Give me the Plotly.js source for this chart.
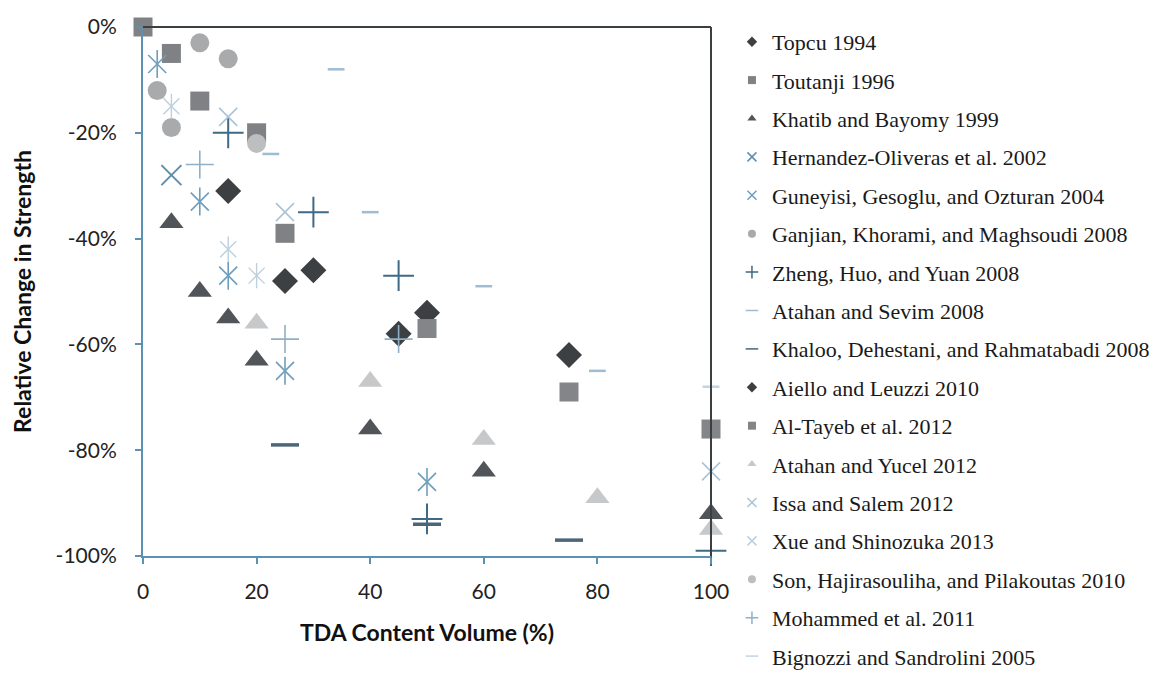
<!DOCTYPE html>
<html>
<head>
<meta charset="utf-8">
<script src="https://cdn.plot.ly/plotly-3.0.1.min.js"></script>
<style>html,body{margin:0;padding:0;background:#fff;}#chart{width:1160px;height:674px;}</style>
</head>
<body>
<div id="chart"></div>
<script>
// ---- data ----
const seriesNames = [
  "Topcu 1994", "Toutanji 1996", "Khatib and Bayomy 1999", "Hernandez-Oliveras et al. 2002",
  "Guneyisi, Gesoglu, and Ozturan 2004", "Ganjian, Khorami, and Maghsoudi 2008", "Zheng, Huo, and Yuan 2008",
  "Atahan and Sevim 2008", "Khaloo, Dehestani, and Rahmatabadi 2008", "Aiello and Leuzzi 2010",
  "Al-Tayeb et al. 2012", "Atahan and Yucel 2012", "Issa and Salem 2012", "Xue and Shinozuka 2013",
  "Son, Hajirasouliha, and Pilakoutas 2010", "Mohammed et al. 2011", "Bignozzi and Sandrolini 2005"
];
const topcuX = [15, 30, 45];               const topcuY = [-31, -46, -58];
const toutanjiX = [0, 5, 10, 20, 25];      const toutanjiY = [0, -5, -14, -20, -39];
const khatibX = [5, 10, 15, 20, 40, 60, 100]; const khatibY = [-37, -50, -55, -63, -76, -84, -92];
const hernandezX = [5];                    const hernandezY = [-28];
const guneyisiX = [2.5, 10, 15, 25, 50];   const guneyisiY = [-7, -33, -47, -65, -86];
const ganjianX = [2.5, 5, 10, 15];         const ganjianY = [-12, -19, -3, -6];
const zhengX = [15, 30, 45, 50, 100];      const zhengY = [-20, -35, -47, -93, -99];
const atahanSevimX = [22.5, 34, 40, 60, 80]; const atahanSevimY = [-24, -8, -35, -49, -65];
const khalooX = [25, 50, 75];              const khalooY = [-79, -94, -97];
const aielloX = [25, 50, 75];              const aielloY = [-48, -54, -62];
const alTayebX = [50, 75, 100];            const alTayebY = [-57, -69, -76];
const atahanYucelX = [20, 40, 60, 80, 100]; const atahanYucelY = [-56, -67, -78, -89, -95];
const issaX = [15, 25, 100];               const issaY = [-17, -35, -84];
const xueX = [5, 15, 20];                  const xueY = [-15, -42, -47];
const sonX = [20];                         const sonY = [-22];
const mohammedX = [10, 25, 45];            const mohammedY = [-26, -59, -59];
const bignozziX = [100];                   const bignozziY = [-68];

const xTickVals = [0, 20, 40, 60, 80, 100];
const xTickLabels = ["0", "20", "40", "60", "80", "100"];
const yTickVals = [0, -20, -40, -60, -80, -100];
const yTickLabels = ["0%", "-20%", "-40%", "-60%", "-80%", "-100%"];

// ---- styles ----
const S = [
  {x: topcuX, y: topcuY, sym: "diamond", size: 20, color: "#3c4043", lw: 0},
  {x: toutanjiX, y: toutanjiY, sym: "square", size: 19, color: "#7f8184", lw: 0},
  {x: khatibX, y: khatibY, sym: "triangle-up", size: 21, color: "#515559", lw: 0},
  {x: hernandezX, y: hernandezY, sym: "x-thin-open", size: 20, color: "#5e8eae", lw: 2},
  {x: guneyisiX, y: guneyisiY, sym: "x-thin-open", size: 18, color: "#6f9ebd", lw: 1.6, star: true},
  {x: ganjianX, y: ganjianY, sym: "circle", size: 19, color: "#a8aaac", lw: 0},
  {x: zhengX, y: zhengY, sym: "cross-thin-open", size: 22, color: "#3f6a86", lw: 2},
  {x: atahanSevimX, y: atahanSevimY, sym: "line-ew-open", size: 12, color: "#9ebcd2", lw: 2.5},
  {x: khalooX, y: khalooY, sym: "line-ew-open", size: 20, color: "#4d6677", lw: 3.5},
  {x: aielloX, y: aielloY, sym: "diamond", size: 20, color: "#3c4043", lw: 0},
  {x: alTayebX, y: alTayebY, sym: "square", size: 19, color: "#838588", lw: 0},
  {x: atahanYucelX, y: atahanYucelY, sym: "triangle-up", size: 21, color: "#c6c8ca", lw: 0},
  {x: issaX, y: issaY, sym: "x-thin-open", size: 18, color: "#a9c4d7", lw: 1.6},
  {x: xueX, y: xueY, sym: "x-thin-open", size: 16, color: "#bcd0de", lw: 1.4, star: true},
  {x: sonX, y: sonY, sym: "circle", size: 19, color: "#bcbec0", lw: 0},
  {x: mohammedX, y: mohammedY, sym: "cross-thin-open", size: 20, color: "#8fb0c6", lw: 1.6},
  {x: bignozziX, y: bignozziY, sym: "line-ew-open", size: 12, color: "#c4d4e0", lw: 2.5}
];

const traces = [];
S.forEach((s, i) => {
  traces.push({
    type: "scatter", mode: "markers", x: s.x, y: s.y, name: seriesNames[i], showlegend: false,
    cliponaxis: false, hoverinfo: "name+x+y",
    marker: {symbol: s.sym, size: s.size, color: s.color, line: {width: s.lw, color: s.color}}
  });
  if (s.star) {
    traces.push({
      type: "scatter", mode: "markers", x: s.x, y: s.y, name: seriesNames[i], showlegend: false,
      cliponaxis: false, hoverinfo: "skip",
      marker: {symbol: "line-ns-open", size: s.size + 2, color: s.color, line: {width: s.lw, color: s.color}}
    });
  }
});
// legend entries with small symbols
S.forEach((s, i) => {
  traces.push({
    type: "scatter", mode: "markers", x: [null], y: [null], name: seriesNames[i],
    legendgroup: "g" + i, showlegend: true, hoverinfo: "skip",
    marker: {symbol: s.sym, size: s.lw > 0 ? 9 : 8, color: s.color, line: {width: s.lw > 0 ? 1.5 : 0, color: s.color}}
  });
});

const axisBlue = "#5b91b3";
const layout = {
  width: 1160, height: 674,
  margin: {l: 143, r: 449, t: 27, b: 118},
  paper_bgcolor: "#ffffff", plot_bgcolor: "#ffffff",
  showlegend: true,
  font: {family: "Lato, 'Open Sans', sans-serif", color: "#222"},
  xaxis: {
    range: [0, 100], tickvals: xTickVals, ticktext: xTickLabels,
    ticks: "outside", ticklen: 6, tickwidth: 1.5, tickcolor: axisBlue,
    showline: true, linecolor: axisBlue, linewidth: 2, showgrid: false, zeroline: false,
    tickfont: {family: "Lato, sans-serif", size: 21, color: "#222"},
    ticklabelstandoff: 10,
    title: {text: "<b>TDA Content Volume (%)</b>", font: {family: "Lato, sans-serif", size: 23, color: "#111"}, standoff: 23}
  },
  yaxis: {
    range: [-100, 0], tickvals: yTickVals, ticktext: yTickLabels,
    ticks: "outside", ticklen: 6, tickwidth: 1.5, tickcolor: axisBlue,
    showline: true, linecolor: axisBlue, linewidth: 2, showgrid: false, zeroline: false,
    tickfont: {family: "Lato, sans-serif", size: 21, color: "#222"},
    ticklabelstandoff: 14,
    title: {text: "<b>Relative Change in Strength</b>", font: {family: "Lato, sans-serif", size: 23, color: "#111"}, standoff: 18}
  },
  shapes: [
    {type: "line", xref: "paper", yref: "paper", x0: 0, x1: 1, y0: 1, y1: 1, line: {color: "#3a3f42", width: 2}},
    {type: "line", xref: "paper", yref: "paper", x0: 1, x1: 1, y0: 0, y1: 1, line: {color: "#3a3f42", width: 2}}
  ],
  legend: {
    xref: "container", yref: "container",
    x: 0.631, xanchor: "left", y: 0.969, yanchor: "top",
    font: {family: "'Liberation Serif', 'DejaVu Serif', serif", size: 22, color: "#1a1a1a"},
    tracegroupgap: 6.8, bgcolor: "rgba(0,0,0,0)", borderwidth: 0, itemwidth: 30,
    maxheight: 760
  }
};

Plotly.newPlot("chart", traces, layout, {displayModeBar: false, responsive: false});
</script>
</body>
</html>
